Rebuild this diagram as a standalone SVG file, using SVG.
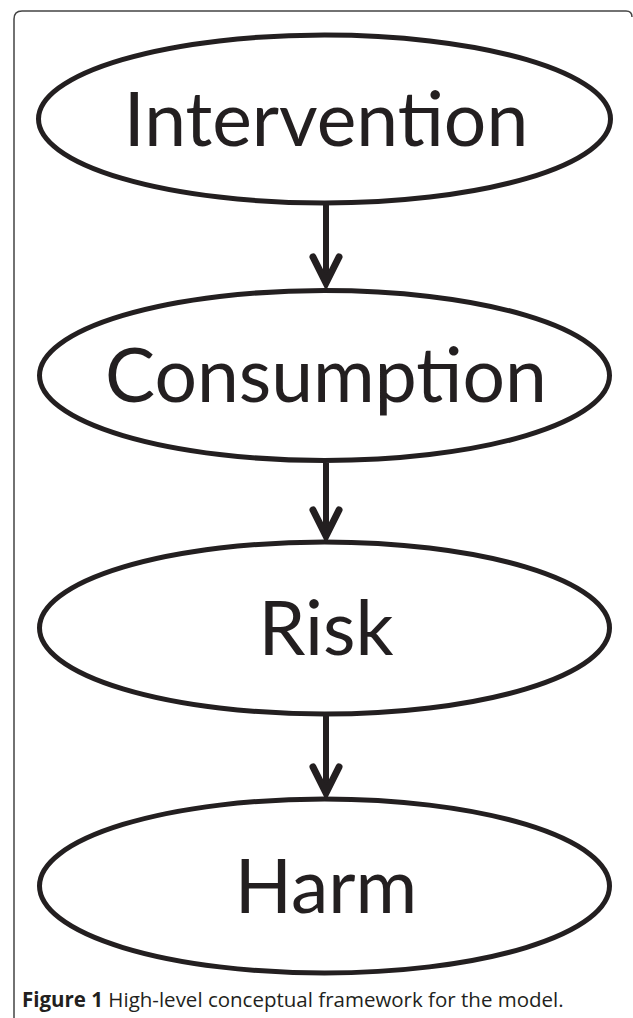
<svg xmlns="http://www.w3.org/2000/svg" width="633" height="1018" viewBox="0 0 633 1018">
<style>
.node ellipse{fill:#fff;stroke:#231f20;stroke-width:5}
.node text{font-family:Lato,"Open Sans",sans-serif;font-size:75px;font-weight:400;fill:#231f20;text-anchor:middle}
.conn line{stroke:#231f20;stroke-width:6}
.conn path{fill:none;stroke:#231f20;stroke-width:7;stroke-linecap:round;stroke-linejoin:miter}
.cap{font-family:"Open Sans","Noto Sans",sans-serif;font-size:20.5px;fill:#231f20}
</style>
<rect x="0" y="0" width="633" height="1018" fill="#fff"/>
<path d="M14,1018 V19 Q14,11 22,11 H626 Q632,11 632,17" fill="none" stroke="#444" stroke-width="1.5"/>
<g id="intervention" class="node">
<ellipse cx="324.5" cy="119" rx="286" ry="84"/>
<text x="326" y="146">Intervention</text>
</g>
<g id="consumption" class="node">
<ellipse cx="324.5" cy="375.5" rx="285" ry="85"/>
<text x="326" y="402">Consumption</text>
</g>
<g id="risk" class="node">
<ellipse cx="324.5" cy="628" rx="285" ry="86"/>
<text x="326" y="655">Risk</text>
</g>
<g id="harm" class="node">
<ellipse cx="324.5" cy="886" rx="285" ry="87"/>
<text x="326" y="913">Harm</text>
</g>
<g id="connectors" class="conn">
<line x1="326" y1="205" x2="326" y2="282"/>
<path d="M313,257 L326,283 L339,257"/>
<line x1="326" y1="463" x2="326" y2="535"/>
<path d="M313,510 L326,536 L339,510"/>
<line x1="326" y1="716" x2="326" y2="792"/>
<path d="M313,767 L326,793 L339,767"/>
</g>
<text class="cap" x="22" y="1007"><tspan font-weight="bold">Figure 1</tspan> High-level conceptual framework for the model.</text>
</svg>
